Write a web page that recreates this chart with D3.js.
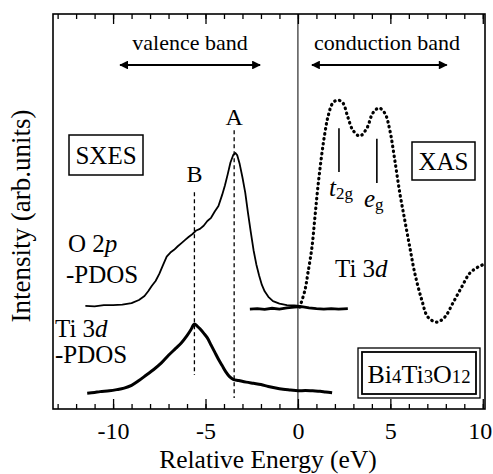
<!DOCTYPE html>
<html>
<head>
<meta charset="utf-8">
<script src="https://cdn.jsdelivr.net/npm/d3@7"></script>
<style>
html,body{margin:0;padding:0;background:#fff;}
svg{display:block;}
svg text{font-family:"Liberation Serif","DejaVu Serif",serif;}
</style>
</head>
<body>
<svg id="chart" width="493" height="474"></svg>
<script>
// ---- data (energy in eV, intensity in arb. units) ----
const o2pEnergy = [-11.5,-11.0,-10.5,-10.0,-9.5,-9.0,-8.6,-8.3,-8.1,-7.9,-7.7,-7.5,-7.3,-7.1,-6.9,-6.7,-6.5,-6.3,-6.1,-5.9,-5.7,-5.5,-5.3,-5.1,-4.9,-4.7,-4.5,-4.3,-4.1,-3.95,-3.8,-3.65,-3.5,-3.38,-3.28,-3.15,-3.0,-2.85,-2.7,-2.55,-2.4,-2.25,-2.1,-1.95,-1.8,-1.6,-1.35,-1.0,-0.6,-0.2,0.1];
const o2pValue  = [26.1,26.0,26.3,26.3,26.4,26.8,27.6,28.6,29.8,31.2,32.4,34.2,36.4,38.6,39.6,40.3,41.2,42.0,42.8,43.6,44.3,45.2,45.6,46.4,47.6,48.4,50.0,51.4,54.2,56.6,59.4,62.4,64.3,64.8,64.2,62.0,58.6,54.8,49.6,44.8,40.2,36.6,33.8,31.4,29.8,28.4,27.3,26.7,26.3,26.2,26.1];

const baseEnergy = [-2.6,-2.2,-1.8,-1.4,-1.0,-0.6,-0.2,0.2,0.6,1.0,1.4,1.8,2.2,2.7];
const baseValue  = [25.3,25.4,25.2,25.5,25.3,25.6,25.8,25.9,25.6,25.4,25.3,25.4,25.3,25.4];

const ti3dEnergy = [-11.4,-11.0,-10.7,-10.2,-9.8,-9.4,-9.0,-8.6,-8.2,-7.8,-7.4,-7.0,-6.6,-6.3,-6.0,-5.8,-5.6,-5.45,-5.3,-5.1,-4.9,-4.7,-4.5,-4.3,-4.1,-3.9,-3.7,-3.5,-3.2,-2.8,-2.4,-2.0,-1.6,-1.2,-0.8,-0.4,0.0,0.4,0.8,1.2,1.5,1.85];
const ti3dValue  = [4.0,4.2,4.4,4.6,4.9,5.3,6.0,7.2,8.6,10.0,11.6,13.6,15.4,16.8,18.6,20.0,21.5,21.0,20.3,19.2,18.0,16.2,14.4,12.6,11.0,9.4,8.2,7.5,7.2,6.8,6.5,6.2,5.7,5.3,5.0,4.8,4.6,4.7,4.6,4.5,4.3,4.1];

const xasEnergy = [0.1,0.38,0.54,0.76,0.92,1.08,1.3,1.46,1.62,1.89,2.16,2.43,2.7,2.97,3.35,3.73,4.05,4.38,4.7,4.97,5.24,5.51,5.78,6.05,6.32,6.7,7.03,7.51,7.95,8.38,8.86,9.3,9.73,10.1];
const xasValue  = [25.8,30.1,34.4,41.0,48.6,56.2,64.8,69.9,73.9,77.5,78.2,77.5,73.9,70.6,69.1,71.1,74.9,76.2,74.9,70.6,63.0,54.7,47.8,41.0,34.4,27.6,23.3,22.0,23.3,26.8,30.9,34.4,35.9,36.7];

const majorTicks = [-10,-5,0,5,10];
const tickLabels = ["-10","-5","0","5","10"];
const minorTicks = d3.range(-13,11,1);

const peakLabels = ["A","B"];
const peakEnergy = [-3.45,-5.6];

// ---- layout ----
const FONT = "'Liberation Serif','DejaVu Serif',serif";
const svg = d3.select("#chart").attr("font-family",FONT);
const L = 53, R = 485, T = 14, B = 409;
const x = d3.scaleLinear().domain([-13.25,10.12]).range([L,R]);
const y = d3.scaleLinear().domain([0,100]).range([B,T]);

// frame
svg.append("rect").attr("x",L).attr("y",T).attr("width",R-L).attr("height",B-T)
  .attr("fill","none").attr("stroke","#000").attr("stroke-width",1.6);

// axes (inward ticks) bottom
const gb = svg.append("g").attr("transform",`translate(0,${B})`);
gb.call(d3.axisBottom(x).tickValues(minorTicks).tickSize(-5).tickFormat(""));
const gb2 = svg.append("g").attr("transform",`translate(0,${B})`);
gb2.call(d3.axisBottom(x).tickValues(majorTicks).tickSize(-10).tickPadding(13)
  .tickFormat((d,i)=>tickLabels[i]));
// top
const gt = svg.append("g").attr("transform",`translate(0,${T})`);
gt.call(d3.axisTop(x).tickValues(minorTicks).tickSize(-5).tickFormat(""));
const gt2 = svg.append("g").attr("transform",`translate(0,${T})`);
gt2.call(d3.axisTop(x).tickValues(majorTicks).tickSize(-10).tickFormat(""));
svg.selectAll("g").attr("font-family",FONT);
svg.selectAll(".domain").remove();
svg.selectAll(".tick line").attr("stroke","#000").attr("stroke-width",1.3);
gb2.selectAll(".tick text").attr("font-size",24).attr("fill","#000");
// last label sits at the right edge: keep it inside the picture
gb2.selectAll(".tick text").filter(d=>d===10).attr("text-anchor","end").attr("dx",9);

// axis titles
svg.append("text").attr("x",268).attr("y",468).attr("text-anchor","middle")
  .attr("font-size",25.5).text("Relative Energy (eV)");
svg.append("text").attr("transform","translate(30,216) rotate(-90)")
  .attr("text-anchor","middle").attr("font-size",27).text("Intensity (arb.units)");

// zero line
svg.append("line").attr("x1",x(0)).attr("x2",x(0)).attr("y1",T).attr("y2",B)
  .attr("stroke","#000").attr("stroke-width",1);

// peak dashed lines
const peakTop = [70.6,54.9], peakBot = [2.8,8.6];
peakEnergy.forEach((e,i)=>{
  svg.append("line").attr("x1",x(e)).attr("x2",x(e)).attr("y1",y(peakTop[i])).attr("y2",y(peakBot[i]))
    .attr("stroke","#000").attr("stroke-width",1.3).attr("stroke-dasharray","4,3");
});
svg.append("text").attr("x",x(peakEnergy[0])).attr("y",125).attr("text-anchor","middle")
  .attr("font-size",24).text(peakLabels[0]);
svg.append("text").attr("x",x(peakEnergy[1])).attr("y",182).attr("text-anchor","middle")
  .attr("font-size",24).text(peakLabels[1]);

const line = d3.line().x(d=>x(d[0])).y(d=>y(d[1]));
const zip = (a,b)=>a.map((v,i)=>[v,b[i]]);

// curves
svg.append("path").datum(zip(o2pEnergy,o2pValue)).attr("d",line)
  .attr("fill","none").attr("stroke","#000").attr("stroke-width",1.8).attr("stroke-linejoin","round");
svg.append("path").datum(zip(baseEnergy,baseValue)).attr("d",line)
  .attr("fill","none").attr("stroke","#000").attr("stroke-width",2.8);
svg.append("path").datum(zip(ti3dEnergy,ti3dValue)).attr("d",d3.line().x(d=>x(d[0])).y(d=>y(d[1])).curve(d3.curveCatmullRom))
  .attr("fill","none").attr("stroke","#000").attr("stroke-width",3).attr("stroke-linejoin","round");
svg.append("path").datum(zip(xasEnergy,xasValue)).attr("d",d3.line().x(d=>x(d[0])).y(d=>y(d[1])).curve(d3.curveCatmullRom))
  .attr("fill","none").attr("stroke","#000").attr("stroke-width",3.2)
  .attr("stroke-dasharray","0.5,4.5").attr("stroke-linecap","round");

// arrows
const defs = svg.append("defs");
defs.append("marker").attr("id","ah").attr("viewBox","0 0 10 10").attr("refX",9).attr("refY",5)
  .attr("markerWidth",6).attr("markerHeight",4).attr("orient","auto-start-reverse")
  .attr("markerUnits","strokeWidth")
  .append("path").attr("d","M0,0 L10,5 L0,10 Z").attr("fill","#000");
const arrows = [[-9.62,-2.05],[0.76,8.05]];
arrows.forEach(a=>{
  svg.append("line").attr("x1",x(a[0])).attr("x2",x(a[1])).attr("y1",65).attr("y2",65)
    .attr("stroke","#000").attr("stroke-width",2.2)
    .attr("marker-start","url(#ah)").attr("marker-end","url(#ah)");
});
svg.append("text").attr("x",190).attr("y",50).attr("text-anchor","middle").attr("font-size",22).text("valence band");
svg.append("text").attr("x",387).attr("y",50).attr("text-anchor","middle").attr("font-size",22).text("conduction band");

// boxes
svg.append("rect").attr("x",69).attr("y",135).attr("width",74).attr("height",40)
  .attr("fill","#fff").attr("stroke","#000").attr("stroke-width",1.5);
svg.append("text").attr("x",106).attr("y",164).attr("text-anchor","middle").attr("font-size",25).text("SXES");
svg.append("rect").attr("x",412).attr("y",142).attr("width",63).attr("height",38)
  .attr("fill","#fff").attr("stroke","#000").attr("stroke-width",1.5);
svg.append("text").attr("x",443.5).attr("y",170).attr("text-anchor","middle").attr("font-size",25).text("XAS");
svg.append("rect").attr("x",358).attr("y",348).attr("width",122).attr("height",50)
  .attr("fill","#fff").attr("stroke","#000").attr("stroke-width",1.3);
svg.append("rect").attr("x",362).attr("y",352).attr("width",114).attr("height",42)
  .attr("fill","none").attr("stroke","#000").attr("stroke-width",1.8);
const bi = svg.append("text").attr("x",419).attr("y",383).attr("text-anchor","middle").attr("font-size",26);
[["Bi",1],["4",0.72],["Ti",1],["3",0.72],["O",1],["12",0.72]].forEach(p=>{
  bi.append("tspan").attr("font-size",26*p[1]).text(p[0]);
});

// labels
function lbl(xx,yy,parts,size){
  const t = svg.append("text").attr("x",xx).attr("y",yy).attr("font-size",size);
  parts.forEach(p=>{ const s=t.append("tspan").text(p[0]); if(p[1]) s.attr("font-style","italic"); });
  return t;
}
lbl(68,252,[["O 2"],["p",1]],25);
lbl(66,283,[["-PDOS"]],25);
lbl(55,337,[["Ti 3"],["d",1]],25);
lbl(55,363,[["-PDOS"]],25);
lbl(335,277,[["Ti 3"],["d",1]],25);

// t2g / eg markers
const orb = [{e:2.22,top:71.1,bot:60.0},{e:4.27,top:68.4,bot:57.2}];
orb.forEach(o=>{
  svg.append("line").attr("x1",x(o.e)).attr("x2",x(o.e)).attr("y1",y(o.top)).attr("y2",y(o.bot))
    .attr("stroke","#000").attr("stroke-width",1.6);
});
const t2 = svg.append("text").attr("x",329).attr("y",196).attr("font-size",25);
t2.append("tspan").attr("font-style","italic").text("t");
t2.append("tspan").attr("font-size",17).attr("dy",3).text("2g");
const eg = svg.append("text").attr("x",364).attr("y",207).attr("font-size",25);
eg.append("tspan").attr("font-style","italic").text("e");
eg.append("tspan").attr("font-size",17).attr("dy",3).text("g");

svg.selectAll("text").attr("font-family",FONT);
</script>
</body>
</html>
